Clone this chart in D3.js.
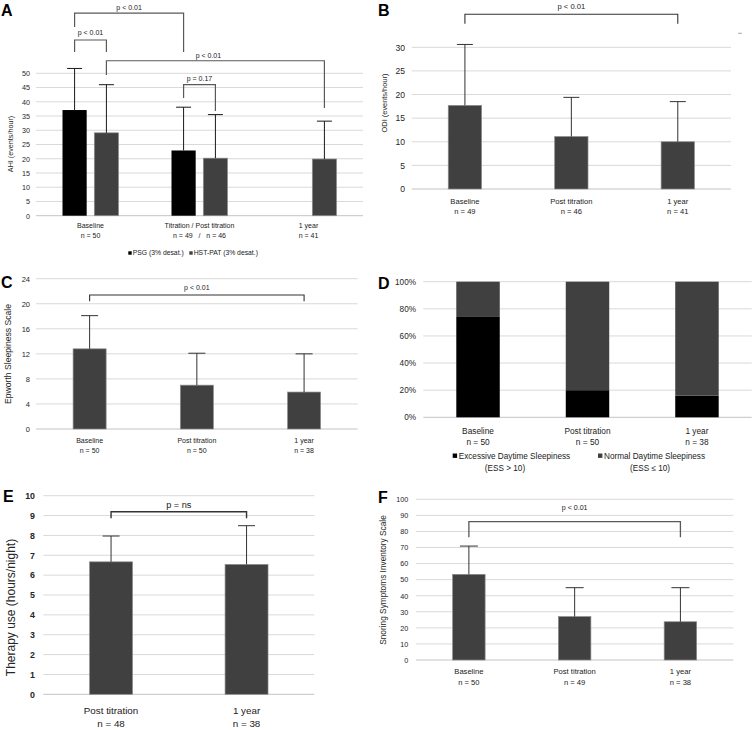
<!DOCTYPE html>
<html>
<head>
<meta charset="utf-8">
<script src="https://cdn.jsdelivr.net/npm/d3@7"></script>
<style>
  body { margin: 0; background: #fff; }
  svg { display: block; font-family: "Liberation Sans", Arial, sans-serif; }
  text { white-space: pre; }
</style>
</head>
<body>
<svg id="chart" width="754" height="730"></svg>
<script>
// ---- data ----

// A: AHI, PSG vs HST-PAT
const ahiGroups = ["Baseline", "Titration / Post titration", "1 year"];
const ahiN = ["n = 50", "n = 49   /   n = 46", "n = 41"];
const ahiPSG = [37.1, 22.9, null];
const ahiPSGsd = [14.6, 15.2, null];
const ahiHST = [29.1, 20.2, 19.9];
const ahiHSTsd = [16.9, 15.3, 13.3];

// B: ODI
const odiCats = ["Baseline", "Post titration", "1 year"];
const odiN = ["n = 49", "n = 46", "n = 41"];
const odi = [17.7, 11.1, 10.0];
const odiSd = [12.9, 8.3, 8.5];

// C: Epworth
const essCats = ["Baseline", "Post titration", "1 year"];
const essN = ["n = 50", "n = 50", "n = 38"];
const ess = [12.8, 7.0, 5.9];
const essSd = [5.3, 5.1, 6.1];

// D: share of patients (%)
const edsCats = ["Baseline", "Post titration", "1 year"];
const edsN = ["n = 50", "n = 50", "n = 38"];
const eds = [74, 20, 16];
const nds = [26, 80, 84];

// E: therapy use
const useCats = ["Post titration", "1 year"];
const useN = ["n = 48", "n = 38"];
const use = [6.67, 6.54];
const useSd = [1.30, 1.95];

// F: SSIS
const ssisCats = ["Baseline", "Post titration", "1 year"];
const ssisN = ["n = 50", "n = 49", "n = 38"];
const ssis = [53.3, 27.0, 23.8];
const ssisSd = [17.6, 18.0, 21.2];

// significance brackets: [from, to, top, left leg end, right leg end, label]
const ahiPairs = [
  [[0, "PSG"], [1, "PSG"], 71.1, 66.3, 57.5, "p < 0.01"],
  [[0, "PSG"], [0, "HST"], 61.7, 57.5, 57.5, "p < 0.01"],
  [[0, "HST"], [2, "HST"], 54.4, 49.4, 37.8, "p < 0.01"],
  [[1, "PSG"], [1, "HST"], 46.0, 41.3, 36.8, "p = 0.17"]
];
const odiPair = [0, 2, 37.0, 35.0, 35.0, "p < 0.01"];
const essPair = [0, 2, 21.4, 20.4, 20.4, "p < 0.01"];
const usePair = [0, 1, 9.19, 8.86, 8.86, "p = ns"];
const ssisPair = [0, 2, 86.1, 76.4, 76.4, "p < 0.01"];

const BLACK = "#000000", GREY = "#404040";
const svg = d3.select("#chart");

// shared frame: grid, y tick labels, category labels, y title, panel letter
function setup(L) {
  const g = svg.append("g");
  const y = d3.scaleLinear().domain([0, L.max]).range([L.y0, L.y1]);
  const x = d3.scaleBand().domain(L.cats).range([L.x0, L.x1]);
  const ticks = d3.range(0, L.max + L.step / 2, L.step);

  g.append("g").selectAll("line").data(ticks).join("line")
      .attr("x1", L.x0).attr("x2", L.x1)
      .attr("y1", d => y(d)).attr("y2", d => y(d))
      .attr("stroke", d => d ? "#d9d9d9" : "#c4c4c4")
      .attr("stroke-width", 1);

  const ax = g.append("g")
      .attr("transform", `translate(${L.x0},0)`)
      .call(d3.axisLeft(y).tickValues(ticks).tickSize(0).tickPadding(L.pad)
        .tickFormat(L.fmt || d3.format("d")));
  ax.attr("font-family", null).attr("font-size", null);
  ax.select(".domain").remove();
  ax.selectAll("text")
      .attr("font-size", L.tick)
      .attr("fill", "#262626")
      .attr("font-weight", L.tickBold ? "bold" : null);

  const lab = g.append("g")
      .attr("text-anchor", "middle")
      .attr("font-size", L.lab)
      .attr("fill", "#1a1a1a");
  L.cats.forEach((c, i) => {
    const cx = x(c) + x.bandwidth() / 2;
    lab.append("text").attr("x", cx).attr("y", L.y0 + L.labDy).text(c);
    lab.append("text").attr("x", cx).attr("y", L.y0 + L.labDy + L.labGap).text(L.ns[i]);
  });

  if (L.title) {
    g.append("text")
        .attr("transform", `translate(${L.tx},${L.ty}) rotate(-90)`)
        .attr("text-anchor", "middle")
        .attr("dy", "0.35em")
        .attr("font-size", L.titleSize)
        .attr("fill", "#262626")
        .text(L.title);
  }
  g.append("text")
      .attr("x", L.lx).attr("y", L.ly)
      .attr("font-size", 16).attr("font-weight", "bold")
      .text(L.letter);
  return {g, x, y};
}

function errorBars(g, pts, capW, color) {
  const e = g.append("g").attr("stroke", color).attr("stroke-width", 1);
  e.selectAll(".v").data(pts).join("line").attr("class", "v")
      .attr("x1", d => d.cx).attr("x2", d => d.cx)
      .attr("y1", d => d.top).attr("y2", d => d.end);
  e.selectAll(".c").data(pts).join("line").attr("class", "c")
      .attr("x1", d => d.cx - capW / 2).attr("x2", d => d.cx + capW / 2)
      .attr("y1", d => d.end).attr("y2", d => d.end);
}

function bracket(g, y, xa, xb, p, s) {
  g.append("path")
      .attr("d", `M${xa},${y(p[3])}V${y(p[2])}H${xb}V${y(p[4])}`)
      .attr("fill", "none")
      .attr("stroke", s.color)
      .attr("stroke-width", s.width);
  g.append("text")
      .attr("x", (xa + xb) / 2 + (s.dx || 0))
      .attr("y", y(p[2]) - s.off)
      .attr("dy", "0.35em")
      .attr("text-anchor", "middle")
      .attr("font-size", s.size)
      .attr("fill", "#1a1a1a")
      .text(p[5]);
}

// single-series bar panel with error bars
function simplePanel(L, vals, sds, pair, ps) {
  const {g, x, y} = setup(L);
  const bw = x.bandwidth() * L.barRatio;
  const cxOf = i => x(L.cats[i]) + x.bandwidth() / 2;
  g.append("g").selectAll("rect").data(vals).join("rect")
      .attr("x", (d, i) => cxOf(i) - bw / 2)
      .attr("y", d => y(d))
      .attr("width", bw)
      .attr("height", d => y(0) - y(d))
      .attr("fill", GREY)
      .attr("stroke", "#8c8c8c")
      .attr("stroke-width", 0.7);
  errorBars(g, vals.map((v, i) => ({cx: cxOf(i), top: y(v), end: y(v + sds[i])})), L.cap, "#333");
  bracket(g, y, cxOf(pair[0]), cxOf(pair[1]), pair, ps);
  return {g, x, y};
}

// ---- A ----
(function () {
  const L = {
    letter: "A", lx: 1, ly: 16,
    cats: ahiGroups, ns: ahiN,
    x0: 36, x1: 363, y0: 215.7, y1: 73.3, max: 50, step: 5,
    pad: 6, tick: 7.2, lab: 7, labDy: 12.3, labGap: 10,
    title: "AHI (events/hour)", tx: 10, ty: 144, titleSize: 7.2
  };
  const {g, x, y} = setup(L);
  const xi = d3.scaleBand().domain(["PSG", "HST"]).range([26.5, 82.5]).paddingInner(0.24);
  const rows = [];
  ahiGroups.forEach((grp, i) => {
    if (ahiPSG[i] != null) rows.push({grp, key: "PSG", v: ahiPSG[i], sd: ahiPSGsd[i]});
    if (ahiHST[i] != null) rows.push({grp, key: "HST", v: ahiHST[i], sd: ahiHSTsd[i]});
  });
  const cx = (grp, key) => x(grp) + xi(key) + xi.bandwidth() / 2;
  g.append("g").selectAll("rect").data(rows).join("rect")
      .attr("x", d => x(d.grp) + xi(d.key))
      .attr("y", d => y(d.v))
      .attr("width", xi.bandwidth())
      .attr("height", d => y(0) - y(d.v))
      .attr("fill", d => d.key === "PSG" ? BLACK : GREY)
      .attr("stroke", d => d.key === "PSG" ? "none" : "#8c8c8c")
      .attr("stroke-width", 0.7);
  errorBars(g, rows.map(d => ({cx: cx(d.grp, d.key), top: y(d.v), end: y(d.v + d.sd)})), 15, "#1a1a1a");

  const offs = [6, 7, 5.7, 5.7], dxs = [0, 0, -7, 0];
  ahiPairs.forEach((p, k) => {
    bracket(g, y, cx(ahiGroups[p[0][0]], p[0][1]), cx(ahiGroups[p[1][0]], p[1][1]), p,
      {color: "#595959", width: 1.2, off: offs[k], dx: dxs[k], size: 7});
  });

  // legend
  const leg = g.append("g").attr("font-size", 6.8).attr("fill", "#1a1a1a");
  const items = [["PSG (3% desat.)", BLACK, 128.3], ["HST-PAT (3% desat.)", GREY, 189.3]];
  items.forEach(([t, c, lx]) => {
    leg.append("rect").attr("x", lx).attr("y", 251.3).attr("width", 3.4).attr("height", 3.4).attr("fill", c);
    leg.append("text").attr("x", lx + 4.4).attr("y", 255.4).text(t);
  });
})();

// ---- B ----
(function () {
  const L = {
    letter: "B", lx: 378, ly: 16,
    cats: odiCats, ns: odiN,
    x0: 411.7, x1: 731, y0: 189, y1: 47.3, max: 30, step: 5,
    pad: 6.7, tick: 8.6, lab: 7.6, labDy: 14.7, labGap: 10.7, barRatio: 0.313, cap: 16,
    title: "ODI (events/hour)", tx: 384, ty: 103, titleSize: 7.4
  };
  const {g} = simplePanel(L, odi, odiSd, odiPair, {color: "#333", width: 1.1, off: 8.3, size: 7.6});
  g.append("line").attr("x1", 738.3).attr("x2", 741.7).attr("y1", 33.3).attr("y2", 33.3)
      .attr("stroke", "#9a9a9a").attr("stroke-width", 1);
})();

// ---- C ----
simplePanel({
  letter: "C", lx: 1, ly: 288,
  cats: essCats, ns: essN,
  x0: 36, x1: 357.7, y0: 429, y1: 278.7, max: 24, step: 4,
  pad: 6, tick: 7.5, lab: 7, labDy: 13.5, labGap: 10, barRatio: 0.308, cap: 17,
  title: "Epworth Sleepiness Scale", tx: 7.5, ty: 354, titleSize: 8.6
}, ess, essSd, essPair, {color: "#333", width: 1.1, off: 7.3, size: 7});

// ---- D ----
(function () {
  const L = {
    letter: "D", lx: 378, ly: 289,
    cats: edsCats, ns: edsN,
    x0: 423.3, x1: 751.7, y0: 417.3, y1: 281.7, max: 1, step: 0.2,
    pad: 7.3, tick: 8.2, lab: 8.3, labDy: 16.2, labGap: 11, fmt: d3.format(".0%")
  };
  const {g, x, y} = setup(L);
  const rows = edsCats.map((c, i) => ({cat: c, eds: eds[i] / 100, nds: nds[i] / 100}));
  const stack = d3.stack().keys(["eds", "nds"])(rows);
  const bw = x.bandwidth() * 0.397;
  const col = {eds: BLACK, nds: GREY};
  g.append("g").selectAll("g").data(stack).join("g")
      .attr("fill", s => col[s.key])
    .selectAll("rect").data(s => s).join("rect")
      .attr("x", d => x(d.data.cat) + (x.bandwidth() - bw) / 2)
      .attr("y", d => y(d[1]))
      .attr("width", bw)
      .attr("height", d => y(d[0]) - y(d[1]));

  const leg = g.append("g").attr("font-size", 8.2).attr("fill", "#1a1a1a");
  const items = [
    ["Excessive Daytime Sleepiness", "(ESS > 10)", BLACK, 452.7, 505],
    ["Normal Daytime Sleepiness", "(ESS \u2264 10)", GREY, 598, 650]
  ];
  items.forEach(([t, t2, c, lx, cx2]) => {
    leg.append("rect").attr("x", lx).attr("y", 453.5).attr("width", 4.4).attr("height", 4.4).attr("fill", c);
    leg.append("text").attr("x", lx + 6).attr("y", 459).text(t);
    leg.append("text").attr("x", cx2).attr("y", 470.8).attr("text-anchor", "middle").text(t2);
  });
})();

// ---- E ----
simplePanel({
  letter: "E", lx: 3, ly: 502,
  cats: useCats, ns: useN,
  x0: 43.3, x1: 314.3, y0: 694.3, y1: 495.7, max: 10, step: 1,
  pad: 8.3, tick: 8.8, tickBold: true, lab: 9.8, labDy: 19.2, labGap: 13.3, barRatio: 0.317, cap: 17,
  title: "Therapy use (hours/night)", tx: 10.5, ty: 607.5, titleSize: 12
}, use, useSd, usePair, {color: "#333", width: 1.4, off: 6.7, size: 9.2});

// ---- F ----
simplePanel({
  letter: "F", lx: 378, ly: 503,
  cats: ssisCats, ns: ssisN,
  x0: 416, x1: 733.3, y0: 660, y1: 499.3, max: 100, step: 10,
  pad: 7.7, tick: 7.2, lab: 7.6, labDy: 14.4, labGap: 10.6, barRatio: 0.307, cap: 18,
  title: "Snoring Symptoms Inventory Scale", tx: 383.5, ty: 580, titleSize: 8.3
}, ssis, ssisSd, ssisPair, {color: "#595959", width: 1.3, off: 14.4, size: 7.1});
</script>
</body>
</html>
